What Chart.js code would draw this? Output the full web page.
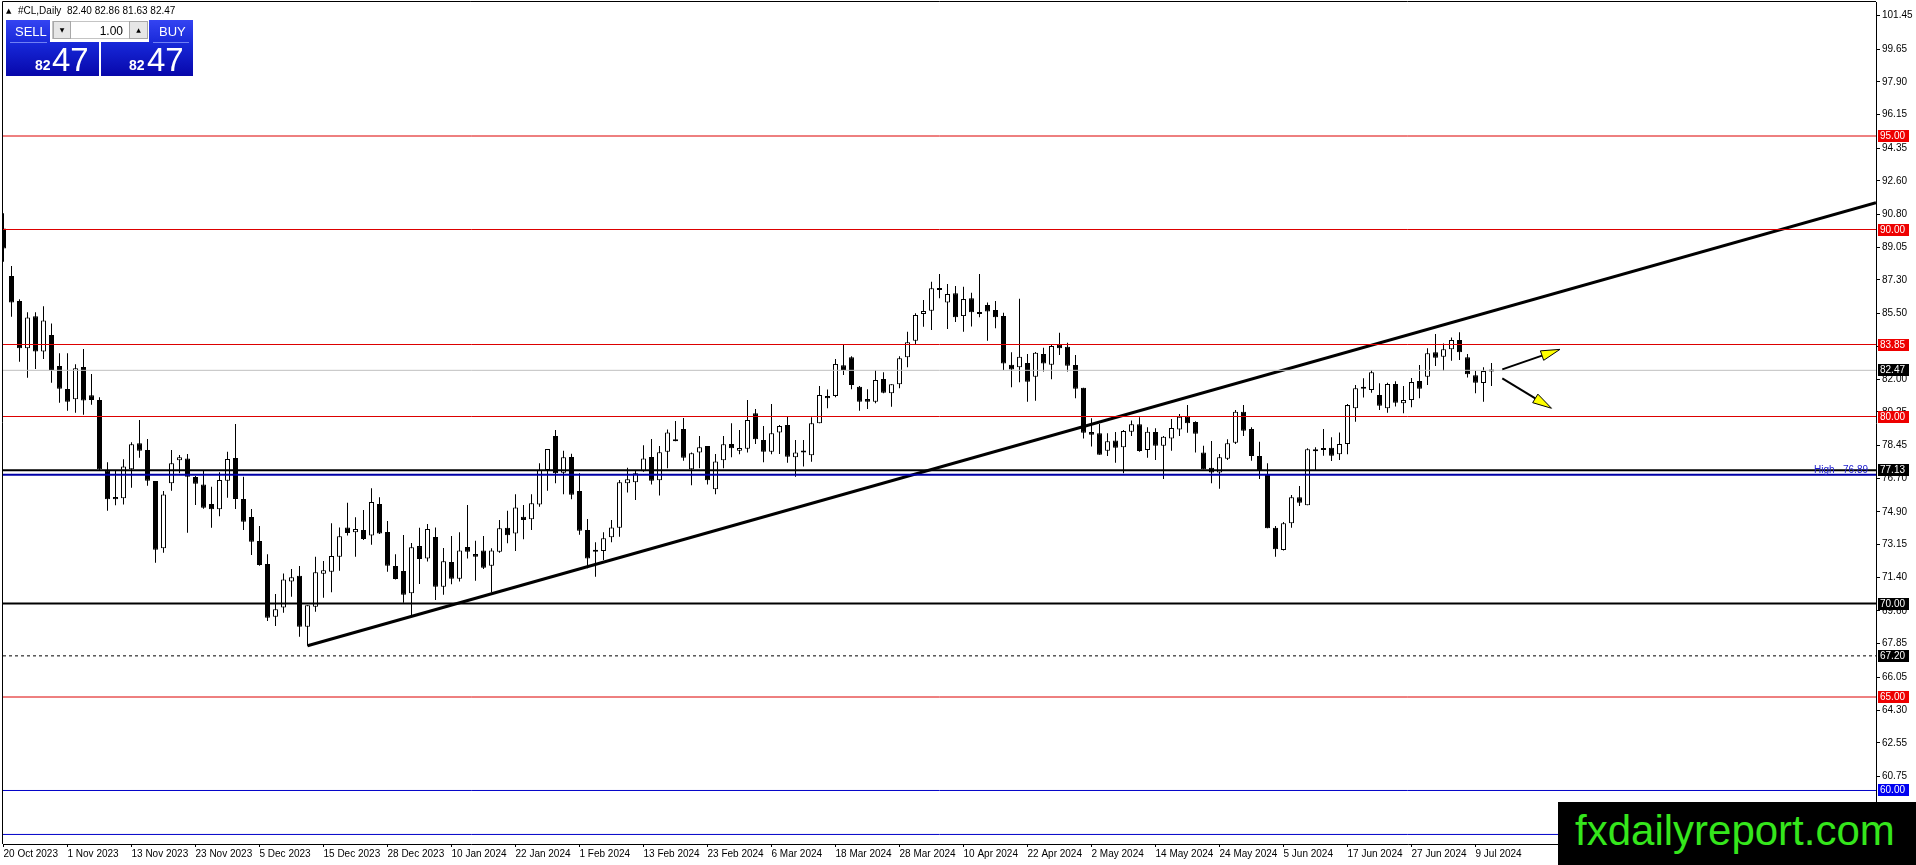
<!DOCTYPE html>
<html>
<head>
<meta charset="utf-8">
<title>#CL,Daily</title>
<script src="https://cdn.jsdelivr.net/npm/chart.js@4.4.1/dist/chart.umd.min.js"></script>
<style>
  html, body { margin: 0; padding: 0; background: #fff; overflow: hidden; }
  #wrap { position: relative; width: 1916px; height: 865px; }
  canvas { position: absolute; left: 0; top: 0; }
  .ov { position: absolute; font-family: "Liberation Sans", Arial, sans-serif; white-space: nowrap; }
  .nar { font-family: "Liberation Sans Narrow", "Liberation Sans", Arial, sans-serif; }
  .pan { position: absolute; background: linear-gradient(to bottom, #3444f2 0%, #1626d6 45%, #0707aa 100%); }
  .btn { position: absolute; background: #e6e6e6; border: 1px solid #a8a8a8; box-sizing: border-box;
         font: 6px "DejaVu Sans", sans-serif; color: #000; text-align: center; line-height: 16px; }
  .sep { position: absolute; height: 1px; background: #7080f4; }
</style>
</head>
<body>
<div id="wrap">
  <canvas id="chart" width="1916" height="865"></canvas>

  <div class="ov" style="left:6px;top:7px;font:7px 'DejaVu Sans',sans-serif;">▲</div>
  <div class="ov" style="left:18px;top:5px;font-size:10px;line-height:12px;">#CL,Daily&nbsp;&nbsp;82.40 82.86 81.63 82.47</div>

  <div class="pan" style="left:6px;top:20px;width:93px;height:56px;"></div>
  <div class="pan" style="left:101px;top:20px;width:92px;height:56px;"></div>
  <div class="ov" style="left:50px;top:20px;width:99px;height:22px;background:#fff;"></div>
  <div class="ov" style="left:52px;top:21px;width:96px;height:18px;border:1px solid #c4c4c4;box-sizing:border-box;"></div>
  <div class="btn" style="left:53px;top:21px;width:18px;height:18px;">▼</div>
  <div class="btn" style="left:129px;top:21px;width:19px;height:18px;">▲</div>
  <div class="ov" style="left:71px;top:25px;width:52px;text-align:right;font-size:12px;line-height:12px;color:#000;">1.00</div>
  <div class="sep" style="left:10px;top:42px;width:37px;"></div>
  <div class="sep" style="left:153px;top:42px;width:36px;"></div>
  <div class="ov nar" style="left:15px;top:25px;font-size:13px;line-height:13px;color:#fff;">SELL</div>
  <div class="ov nar" style="left:159px;top:25px;font-size:13px;line-height:13px;color:#fff;">BUY</div>
  <div class="ov nar" style="left:35px;top:58px;font-size:14px;line-height:14px;font-weight:bold;color:#fff;">82</div>
  <div class="ov nar" style="left:52px;top:43px;font-size:33px;line-height:33px;color:#fff;">47</div>
  <div class="ov nar" style="left:129px;top:58px;font-size:14px;line-height:14px;font-weight:bold;color:#fff;">82</div>
  <div class="ov nar" style="left:147px;top:43px;font-size:33px;line-height:33px;color:#fff;">47</div>

  <div class="ov" style="left:1558px;top:802px;width:358px;height:63px;background:#000;">
    <div class="ov" style="left:17px;top:8px;font-size:42px;line-height:42px;color:#35e61c;">fxdailyreport.com</div>
  </div>
</div>

<script>
// ---- data ----
const dateIdx = [0, 8, 16, 24, 32, 40, 48, 56, 64, 72, 80, 88, 96, 104, 112, 120, 128, 136, 144, 152, 160, 168, 176, 184];
const dateLabels = ["20 Oct 2023", "1 Nov 2023", "13 Nov 2023", "23 Nov 2023", "5 Dec 2023", "15 Dec 2023",
  "28 Dec 2023", "10 Jan 2024", "22 Jan 2024", "1 Feb 2024", "13 Feb 2024", "23 Feb 2024", "6 Mar 2024",
  "18 Mar 2024", "28 Mar 2024", "10 Apr 2024", "22 Apr 2024", "2 May 2024", "14 May 2024", "24 May 2024",
  "5 Jun 2024", "17 Jun 2024", "27 Jun 2024", "9 Jul 2024"];
const priceTicks = [101.45, 99.65, 97.90, 96.15, 94.35, 92.60, 90.80, 89.05, 87.30, 85.50, 83.75, 82.00,
  80.25, 78.45, 76.70, 74.90, 73.15, 71.40, 69.60, 67.85, 66.05, 64.30, 62.55, 60.75, 59.00];

const open = [90.06,87.51,86.18,83.65,85.36,83.47,84.36,82.70,81.47,80.92,
  82.65,81.13,80.88,77.10,75.70,75.63,77.18,78.57,78.21,76.55,
  72.95,76.43,77.66,77.76,76.76,76.37,75.32,75.04,76.57,77.78,
  75.59,74.62,73.34,72.11,69.29,69.78,71.17,71.49,68.76,69.83,
  71.59,71.70,72.50,74.07,73.81,73.93,73.63,75.32,73.82,72.01,
  71.74,70.55,73.07,72.40,73.56,70.90,72.22,71.33,73.02,72.65,
  72.84,72.02,72.77,74.05,73.75,74.64,74.50,75.30,77.14,78.96,
  76.99,77.83,76.02,73.93,72.86,72.81,73.54,74.05,76.43,76.48,
  77.07,77.83,76.59,78.12,78.73,79.33,77.18,78.08,78.42,76.11,
  77.66,78.53,78.17,78.28,80.17,78.74,78.12,79.15,79.55,77.82,
  78.10,77.93,79.64,81.10,81.10,82.74,83.17,81.59,80.94,80.79,
  82.01,81.24,81.72,83.17,84.05,85.48,85.66,86.86,86.10,86.59,
  85.37,86.32,85.57,85.96,85.70,85.37,82.77,82.63,82.86,82.13,
  83.34,82.77,83.86,83.73,82.75,81.54,79.17,79.10,78.17,78.71,
  78.35,79.19,79.58,78.21,79.17,78.44,78.83,79.31,79.99,79.71,
  78.08,77.26,77.00,77.74,78.60,80.26,79.33,77.89,76.87,74.05,
  72.86,74.29,75.68,75.25,78.21,78.30,78.33,77.98,78.53,80.44,
  81.56,81.42,81.15,80.44,81.74,80.71,80.88,81.90,82.13,83.43,
  83.20,83.59,84.09,83.17,82.20,81.79,82.40];
const high = [90.87,88.05,86.27,85.57,85.57,85.89,84.98,83.38,83.38,82.79,
  83.61,82.27,81.03,77.55,77.10,77.71,78.62,79.81,78.80,76.55,
  76.01,78.21,77.94,77.99,76.82,77.10,76.24,77.02,78.12,79.60,
  76.78,75.05,74.14,72.63,70.51,71.61,71.84,72.01,69.90,72.50,
  72.27,74.29,74.07,75.39,74.61,75.00,76.16,75.68,74.41,72.63,
  73.66,73.24,74.05,74.25,74.07,72.97,73.61,73.81,75.27,73.36,
  73.61,72.95,74.47,74.96,75.84,75.27,75.84,77.50,78.26,79.28,
  78.17,78.01,76.96,74.52,73.27,73.81,74.47,76.60,77.26,77.09,
  78.46,78.80,78.42,79.31,79.76,79.92,78.08,78.96,78.42,77.99,
  78.96,79.64,79.28,80.88,80.40,79.49,80.67,79.55,80.03,78.74,
  78.74,79.96,81.63,81.45,83.07,83.82,83.22,81.63,81.46,82.49,
  82.36,81.72,83.22,84.53,85.52,86.23,87.21,87.62,87.09,86.98,
  86.94,86.62,87.62,86.10,86.17,85.55,83.43,86.30,83.34,83.45,
  83.68,83.82,84.48,83.95,83.29,81.54,79.90,79.60,79.10,79.17,
  79.28,79.78,79.96,79.42,79.37,78.96,79.87,80.13,80.61,79.74,
  78.44,78.69,77.99,78.78,80.35,80.61,79.42,78.65,77.50,74.14,
  74.36,75.80,76.28,78.30,78.35,79.33,78.89,79.15,80.67,81.68,
  82.04,82.49,81.78,81.81,81.88,81.63,82.06,82.75,83.65,84.41,
  83.91,84.23,84.50,83.34,82.45,82.63,82.86];
const low = [88.28,85.34,82.93,82.07,82.54,83.07,81.81,80.74,80.31,80.20,
  80.10,80.63,77.10,74.96,75.25,75.30,76.19,77.80,76.30,72.18,
  72.72,76.03,76.96,73.79,75.27,75.07,74.05,74.67,75.66,75.05,
  73.93,72.59,72.02,69.06,68.80,69.51,70.36,68.22,67.74,69.56,
  70.31,70.60,71.75,73.63,72.50,73.40,73.14,73.72,71.70,71.29,
  70.04,69.39,71.04,72.24,70.19,70.47,71.03,71.17,72.40,71.22,
  71.84,70.60,72.72,73.22,72.81,73.43,73.93,75.18,76.03,76.43,
  75.84,75.57,73.68,71.88,71.43,72.33,73.27,73.57,75.93,75.53,
  77.04,76.37,75.77,77.23,78.67,77.64,76.33,77.23,76.37,75.84,
  77.23,77.82,77.98,78.07,78.53,77.55,77.98,78.00,77.53,76.78,
  77.32,77.58,79.64,80.44,81.03,82.22,81.46,80.31,80.40,80.71,
  81.24,80.52,81.51,82.63,83.88,84.80,84.63,86.32,84.68,85.06,
  84.53,84.81,85.31,84.05,84.72,82.49,81.56,81.83,80.79,80.84,
  82.41,81.99,83.29,82.41,80.97,78.83,78.39,77.96,77.89,77.53,
  76.96,78.96,78.12,77.80,77.68,76.66,78.17,78.96,79.13,78.07,
  77.18,76.43,76.14,77.68,78.53,78.96,77.64,76.66,74.02,72.50,
  72.83,74.05,75.21,75.25,77.14,77.90,77.62,77.67,77.98,79.72,
  81.01,81.27,80.35,80.20,80.53,80.17,80.49,80.97,81.68,82.70,
  82.45,82.98,83.02,82.08,81.24,80.79,81.63];
const close = [88.99,86.09,83.65,85.30,83.47,85.14,82.49,81.49,80.79,82.58,
  80.85,80.88,77.18,75.57,75.57,77.32,78.51,78.17,76.57,72.88,
  75.83,77.50,77.82,76.78,76.41,75.12,75.04,76.60,77.73,75.59,
  74.37,73.30,72.06,69.24,69.69,71.29,71.40,68.76,69.90,71.67,
  71.78,72.54,73.59,73.77,73.98,73.45,75.43,73.75,72.02,71.31,
  70.47,73.01,72.38,73.98,70.90,72.26,71.33,72.84,72.77,72.50,
  71.91,72.84,74.02,73.65,75.14,74.47,75.36,77.14,78.26,76.96,
  77.82,75.82,73.89,72.40,72.77,73.49,74.07,76.48,76.65,76.96,
  77.76,76.57,78.09,79.15,78.67,77.80,78.03,78.35,76.59,77.60,
  78.51,78.30,78.32,79.81,78.78,78.12,79.10,79.49,77.85,78.08,
  78.07,79.64,81.15,80.97,82.81,82.49,81.68,80.79,80.79,81.95,
  81.27,81.72,83.11,83.97,85.43,85.64,86.86,86.77,86.55,85.31,
  86.28,85.57,85.48,85.61,85.31,82.84,82.52,83.20,81.86,83.41,
  82.84,83.77,83.65,82.71,81.49,79.13,79.03,77.96,78.67,78.33,
  79.22,79.58,78.16,79.19,78.44,78.92,79.39,79.99,79.64,79.08,
  77.18,77.01,77.82,78.57,80.26,79.24,77.89,77.14,74.02,72.90,
  74.29,75.68,75.39,78.25,78.14,78.21,77.90,78.53,80.61,81.51,
  81.49,82.36,80.58,81.74,80.74,80.88,81.84,81.49,83.38,83.14,
  83.59,84.09,83.43,82.26,81.81,82.43,82.47];

// horizontal levels drawn on the chart
const redLevels = [95.00, 90.00, 83.85, 80.00, 65.00];
const blackLevels = [77.13, 70.00];
const blueLevels = [60.00, 57.65];
const highLevel = 76.89;
const dashedLevel = 67.20;
const lastPrice = 82.47;
// price-axis tags: value and kind
const tagValues = [95.00, 90.00, 83.85, 82.47, 80.00, 77.13, 70.00, 67.20, 65.00, 60.00];
const tagKinds = ["red", "red", "red", "black", "red", "black", "black", "black", "red", "blue"];
// trend line (bar index, price) and the two arrows
const trendStart = [38, 67.74];
const trendEnd = [234.06, 91.43];
const arrowStarts = [[187.35, 82.52], [187.35, 82.04]];
const arrowEnds = [[194.56, 83.59], [193.50, 80.44]];

// ---- view range ----
const X_MIN = -0.0625, X_MAX = 234.0625;
const Y_MIN = 57.139, Y_MAX = 102.166;

const FONT = "'Liberation Sans', Arial, sans-serif";
const tagColor = { red: "#ee0000", black: "#000000", blue: "#0000f0" };

const idx = open.map((_, i) => i);
const wickData = idx.map(i => ({ x: i, y: [low[i], high[i]] }));
const bodyData = idx.map(i => ({ x: i, y: [open[i], close[i]] }));
const bodyFill = idx.map(i => close[i] > open[i] ? "#ffffff" : "#000000");

function hline(v) {
  return [{ x: X_MIN, y: v }, { x: X_MAX, y: v }];
}
function lineSet(data, color, width, dash) {
  return {
    type: "line", data: data, borderColor: color, borderWidth: width, borderDash: dash || [],
    pointRadius: 0, fill: false, tension: 0, order: 0
  };
}

const datasets = [
  { type: "bar", data: wickData, backgroundColor: "#000", borderWidth: 0, barThickness: 1,
    grouped: false, inflateAmount: 0, order: 2 },
  { type: "bar", data: bodyData, backgroundColor: bodyFill, borderColor: "#000", borderWidth: 1,
    borderSkipped: false, barThickness: 5, minBarLength: 2, grouped: false, inflateAmount: 0, order: 1 },
  lineSet(hline(lastPrice), "#c0c0c0", 1),
  lineSet(hline(dashedLevel), "#000", 1, [3, 3]),
  lineSet(hline(highLevel), "#0000a8", 2),
];
redLevels.forEach(v => datasets.push(lineSet(hline(v), "#dd0000", 1)));
blackLevels.forEach(v => datasets.push(lineSet(hline(v), "#000", 2)));
blueLevels.forEach(v => datasets.push(lineSet(hline(v), "#0000c8", 1)));
datasets.push(lineSet([{ x: trendStart[0], y: trendStart[1] }, { x: trendEnd[0], y: trendEnd[1] }], "#000", 3));

function drawArrow(ctx, x0, y0, x1, y1) {
  const a = Math.atan2(y1 - y0, x1 - x0);
  const len = 19, half = 5;
  const bx = x1 - len * Math.cos(a), by = y1 - len * Math.sin(a);
  ctx.strokeStyle = "#000";
  ctx.lineWidth = 2;
  ctx.beginPath(); ctx.moveTo(x0, y0); ctx.lineTo(bx, by); ctx.stroke();
  ctx.beginPath();
  ctx.moveTo(x1, y1);
  ctx.lineTo(bx - half * Math.sin(a), by + half * Math.cos(a));
  ctx.lineTo(bx + half * Math.sin(a), by - half * Math.cos(a));
  ctx.closePath();
  ctx.fillStyle = "#ffff00";
  ctx.fill();
  ctx.lineWidth = 1;
  ctx.stroke();
}

const extras = {
  id: "extras",
  afterDraw(chart) {
    const { ctx, chartArea: area, scales } = chart;
    const sx = scales.x, sy = scales.y;
    ctx.save();
    // frame (top and left)
    ctx.strokeStyle = "#000"; ctx.lineWidth = 1;
    ctx.beginPath();
    ctx.moveTo(area.left - 0.5, area.bottom);
    ctx.lineTo(area.left - 0.5, area.top - 0.5);
    ctx.lineTo(area.right, area.top - 0.5);
    ctx.stroke();

    // arrows
    arrowStarts.forEach((s, k) => {
      const e = arrowEnds[k];
      drawArrow(ctx, sx.getPixelForValue(s[0]), sy.getPixelForValue(s[1]),
        sx.getPixelForValue(e[0]), sy.getPixelForValue(e[1]));
    });

    // High label
    ctx.font = "10px " + FONT;
    ctx.fillStyle = "#2020d0";
    ctx.textAlign = "right";
    ctx.textBaseline = "alphabetic";
    ctx.fillText("High   " + highLevel.toFixed(2), area.right - 8, sy.getPixelForValue(highLevel) - 2);

    // price tags on the axis
    ctx.textAlign = "left";
    ctx.textBaseline = "middle";
    tagValues.forEach((v, k) => {
      const y = Math.round(sy.getPixelForValue(v));
      ctx.fillStyle = tagColor[tagKinds[k]];
      ctx.fillRect(area.right + 2, y - 6, 31, 12);
      ctx.fillStyle = "#fff";
      ctx.fillText(v.toFixed(2), area.right + 4, y + 0.5);
    });
    ctx.restore();
  }
};

new Chart(document.getElementById("chart").getContext("2d"), {
  type: "bar",
  data: { datasets: datasets },
  options: {
    responsive: false,
    animation: false,
    devicePixelRatio: 1,
    layout: { padding: { left: 3, top: 2, right: 0, bottom: 0 } },
    plugins: { legend: { display: false }, tooltip: { enabled: false } },
    scales: {
      x: {
        type: "linear", min: X_MIN, max: X_MAX, offset: false,
        afterFit(s) { s.height = 21; s.paddingLeft = 0; s.paddingRight = 0; },
        afterBuildTicks(s) { s.ticks = dateIdx.map(v => ({ value: v })); },
        ticks: {
          autoSkip: false, maxRotation: 0, align: "start", padding: 1, color: "#000",
          font: { family: FONT, size: 10 },
          callback(v) { const k = dateIdx.indexOf(v); return k >= 0 ? dateLabels[k] : ""; }
        },
        grid: { drawOnChartArea: false, tickLength: 3, color: "#000", offset: false },
        border: { display: true, color: "#000", width: 1 }
      },
      y: {
        type: "linear", position: "right", min: Y_MIN, max: Y_MAX,
        afterFit(s) { s.width = 40; s.paddingTop = 0; s.paddingBottom = 0; },
        afterBuildTicks(s) { s.ticks = priceTicks.map(v => ({ value: v })); },
        ticks: {
          padding: 2, color: "#000", font: { family: FONT, size: 10 },
          callback(v) { return Number(v).toFixed(2); }
        },
        grid: { drawOnChartArea: false, tickLength: 4, color: "#000" },
        border: { display: true, color: "#000", width: 1 }
      }
    }
  },
  plugins: [extras]
});
</script>
</body>
</html>
